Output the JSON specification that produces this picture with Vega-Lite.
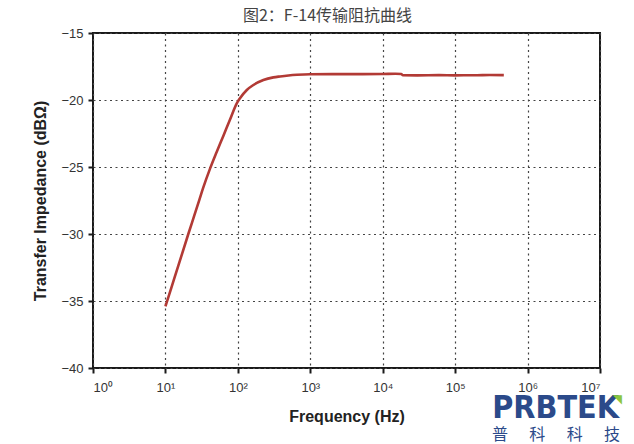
{
  "$schema": "https://vega.github.io/schema/vega-lite/v6.json",
  "autosize": {"type": "none"},
  "padding": {"left": 93, "top": 33, "right": 34, "bottom": 76},
  "width": 507,
  "height": 335,
  "background": "white",
  "config": {
    "view": {"stroke": "#1a1a1a", "strokeWidth": 2},
    "font": "Liberation Sans"
  },
  "title": {
    "text": "图2：F-14传输阻抗曲线",
    "font": "Noto Sans CJK SC",
    "fontSize": 16,
    "fontWeight": "normal",
    "color": "#444444",
    "anchor": "middle",
    "dx": -19,
    "offset": 3
  },
  "data": {
    "values": [
      {"f": 10, "z": -35.4},
      {"f": 12, "z": -34.05},
      {"f": 15, "z": -32.4},
      {"f": 20.7, "z": -30.0},
      {"f": 25, "z": -28.63},
      {"f": 29.4, "z": -27.45},
      {"f": 33, "z": -26.6},
      {"f": 41.3, "z": -25.12},
      {"f": 51, "z": -23.88},
      {"f": 63, "z": -22.68},
      {"f": 78, "z": -21.46},
      {"f": 96.6, "z": -20.25},
      {"f": 107, "z": -19.87},
      {"f": 133, "z": -19.25},
      {"f": 164, "z": -18.88},
      {"f": 225, "z": -18.51},
      {"f": 309, "z": -18.31},
      {"f": 383, "z": -18.24},
      {"f": 500, "z": -18.17},
      {"f": 657, "z": -18.12},
      {"f": 1000, "z": -18.08},
      {"f": 2000, "z": -18.07},
      {"f": 5000, "z": -18.07},
      {"f": 10000, "z": -18.06},
      {"f": 15000, "z": -18.04},
      {"f": 18000, "z": -18.06},
      {"f": 19000, "z": -18.15},
      {"f": 30000, "z": -18.16},
      {"f": 60000, "z": -18.14},
      {"f": 100000, "z": -18.16},
      {"f": 200000, "z": -18.15},
      {"f": 300000, "z": -18.13},
      {"f": 470000, "z": -18.14}
    ]
  },
  "layer": [
    {
      "mark": {"type": "line", "color": "#b23a35", "strokeWidth": 2.6, "interpolate": "monotone", "clip": true},
      "encoding": {
        "x": {
          "field": "f",
          "type": "quantitative",
          "scale": {"type": "log", "domain": [1, 10000000], "nice": false},
          "axis": {
            "title": "Frequency (Hz)",
            "titleFont": "Liberation Sans",
            "titleFontSize": 16,
            "titleFontWeight": "bold",
            "titleColor": "#222222",
            "titlePadding": 14,
            "values": [1, 10, 100, 1000, 10000, 100000, 1000000, 10000000],
            "labelExpr": "['10⁰','10¹','10²','10³','10⁴','10⁵','10⁶','10⁷'][round(log(datum.value)/LN10)]",
            "labelFont": "Liberation Sans",
            "labelFontSize": 13,
            "labelColor": "#333333",
            "labelPadding": 8,
            "tickColor": "#1a1a1a",
            "tickWidth": 2,
            "tickSize": 5,
            "domain": false,
            "grid": true,
            "gridColor": "#444444",
            "gridDash": [2, 3.5],
            "gridWidth": 1.2
          }
        },
        "y": {
          "field": "z",
          "type": "quantitative",
          "scale": {"domain": [-40, -15], "nice": false, "zero": false},
          "axis": {
            "title": "Transfer Impedance (dBΩ)",
            "titleFont": "Liberation Sans",
            "titleFontSize": 16,
            "titleFontWeight": "bold",
            "titleColor": "#222222",
            "titlePadding": 12,
            "values": [-40, -35, -30, -25, -20, -15],
            "labelFont": "Liberation Sans",
            "labelFontSize": 13,
            "labelColor": "#333333",
            "labelPadding": 5,
            "tickColor": "#1a1a1a",
            "tickWidth": 2,
            "tickSize": 5,
            "domain": false,
            "grid": true,
            "gridColor": "#444444",
            "gridDash": [2, 3.5],
            "gridWidth": 1.2
          }
        }
      }
    },
    {
      "data": {"values": [{"logo": "PRBTEK"}]},
      "mark": {"type": "text", "font": "DejaVu Sans Condensed", "fontWeight": "bold", "fontSize": 32, "color": "#2b4a8a", "align": "center", "baseline": "middle", "clip": false},
      "encoding": {
        "text": {"field": "logo"},
        "x": {"datum": 2440000, "type": "quantitative"},
        "y": {"datum": -42.95, "type": "quantitative"}
      }
    },
    {
      "data": {"values": [{"logo": "◥"}]},
      "mark": {"type": "text", "font": "DejaVu Sans", "fontSize": 12, "color": "#8cc63f", "align": "center", "baseline": "middle", "clip": false},
      "encoding": {
        "text": {"field": "logo"},
        "x": {"datum": 17300000, "type": "quantitative"},
        "y": {"datum": -42.35, "type": "quantitative"}
      }
    },
    {
      "data": {"values": [{"logo": "普\u2003\u2004科\u2003\u2004科\u2003\u2004技"}]},
      "mark": {"type": "text", "font": "Noto Sans CJK SC", "fontSize": 16, "color": "#2b4a8a", "align": "center", "baseline": "middle", "clip": false},
      "encoding": {
        "text": {"field": "logo"},
        "x": {"datum": 2470000, "type": "quantitative"},
        "y": {"datum": -45.0, "type": "quantitative"}
      }
    }
  ]
}
